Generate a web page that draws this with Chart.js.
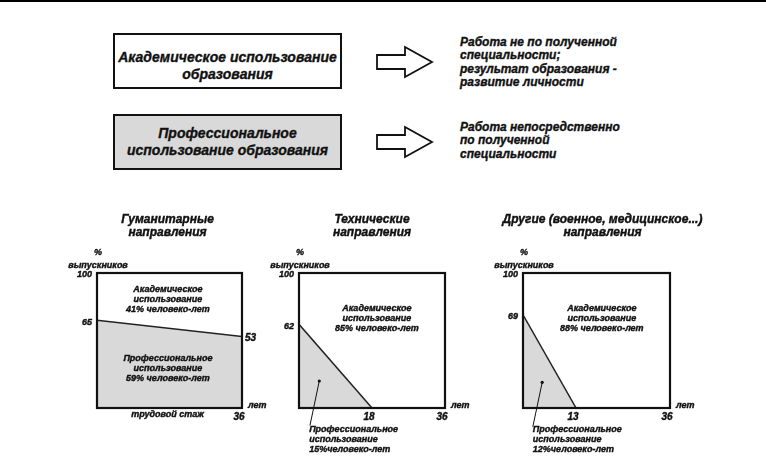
<!DOCTYPE html>
<html>
<head>
<meta charset="utf-8">
<script src="https://cdn.jsdelivr.net/npm/chart.js@4.4.0/dist/chart.umd.min.js"></script>
<style>
body{margin:0;background:#fff;}
#page{position:relative;width:766px;height:463px;overflow:hidden;font-family:"Liberation Sans",Arial,sans-serif;font-weight:bold;font-style:italic;color:#111;-webkit-text-stroke:0.35px #111;}
.bar{position:absolute;left:0;top:0;width:766px;height:2px;background:#000;}
.box{position:absolute;left:113px;width:229px;height:56px;border:2px solid #111;box-sizing:border-box;}
.boxtxt{position:absolute;left:113px;width:229px;text-align:center;font-size:14px;line-height:16.5px;white-space:nowrap;}
.note{position:absolute;left:460px;font-size:12px;line-height:13.4px;white-space:nowrap;}
canvas{position:absolute;top:200px;}
</style>
</head>
<body>
<div id="page">
  <div class="bar"></div>

  <div class="box" style="top:33px;background:#fff;"></div>
  <div class="boxtxt" style="top:49px;">Академическое использование<br>образования</div>
  <div class="box" style="top:114px;background:#d9d9d9;"></div>
  <div class="boxtxt" style="top:125px;">Профессиональное<br>использование образования</div>

  <svg style="position:absolute;left:0;top:0" width="766" height="200">
    <polygon points="377,55 405,55 405,47 432,62 405,77 405,69 377,69" fill="#fff" stroke="#111" stroke-width="1.8"/>
    <polygon points="377,135 405,135 405,127 432,142 405,157 405,149 377,149" fill="#fff" stroke="#111" stroke-width="1.8"/>
  </svg>

  <div class="note" style="top:36px;">Работа не по полученной<br>специальности;<br>результат образования -<br>развитие личности</div>
  <div class="note" style="top:121px;">Работа непосредственно<br>по полученной<br>специальности</div>

  <canvas id="c1" width="230" height="263" style="left:40px;"></canvas>
  <canvas id="c2" width="230" height="263" style="left:260px;"></canvas>
  <canvas id="c3" width="240" height="263" style="left:480px;"></canvas>
</div>
<script>
// стаж (лет) и % выпускников, работающих по специальности
const humYears = [0, 36];
const humShare = [65, 53];
const techYears = [0, 18];
const techShare = [62, 0];
const otherYears = [0, 13];
const otherShare = [69, 0];

// подписи осей
const humLeftTicks = [100, 65];
const humRightTicks = [53];
const humXTicks = [36];
const techLeftTicks = [100, 62];
const techXTicks = [18, 36];
const otherLeftTicks = [100, 69];
const otherXTicks = [13, 36];

const FONT = '"Liberation Sans", Arial, sans-serif';
const INK = '#111';
const GRAY = '#d9d9d9';

function f(size) {
  return 'italic bold ' + size + 'px ' + FONT;
}

function txt(ctx, t, x, y) {
  ctx.fillText(t, x, y);
  ctx.strokeText(t, x, y);
}

// подписи, рамка и выноски
const decor = {
  id: 'decor',
  afterDraw(chart, args, o) {
    const { ctx, chartArea: a } = chart;
    const xs = chart.scales.x, ys = chart.scales.y;
    const mid = (a.left + a.right) / 2;
    ctx.save();
    ctx.strokeStyle = INK;
    ctx.lineWidth = 2.2;
    ctx.strokeRect(a.left, a.top, a.right - a.left, a.bottom - a.top);

    ctx.fillStyle = INK;
    ctx.lineWidth = 0.4;
    ctx.textAlign = 'center';
    ctx.textBaseline = 'middle';
    ctx.font = f(12);
    o.title.forEach((t, i) => txt(ctx, t, mid + o.titleDx, a.top - 53 + i * 12.5));

    ctx.font = f(9);
    txt(ctx, '%', a.left + 1, a.top - 20);
    txt(ctx, 'выпускников', a.left + 1, a.top - 7);

    ctx.textAlign = 'left';
    txt(ctx, 'лет', a.right + 6, a.bottom - 2);
    if (o.xTitle) {
      ctx.textAlign = 'center';
      txt(ctx, o.xTitle, mid - 2, a.bottom + 7);
    }

    o.labels.forEach(b => {
      ctx.textAlign = b.align || 'center';
      const px = xs.getPixelForValue(b.x);
      const py = ys.getPixelForValue(b.y);
      const h = (b.lines.length - 1) * 10;
      b.lines.forEach((t, i) => txt(ctx, t, px, py - h / 2 + i * 10));
    });

    if (o.leader) {
      const p0 = [xs.getPixelForValue(o.leader[0]), ys.getPixelForValue(o.leader[1])];
      const p1 = [xs.getPixelForValue(o.leader[2]), ys.getPixelForValue(o.leader[3])];
      ctx.lineWidth = 1;
      ctx.beginPath();
      ctx.moveTo(p0[0], p0[1]);
      ctx.lineTo(p1[0], p1[1]);
      ctx.stroke();
      ctx.beginPath();
      ctx.arc(p0[0], p0[1], 1.6, 0, Math.PI * 2);
      ctx.fill();
    }
    ctx.restore();
  }
};

function tickFont(size) {
  return { family: FONT, size: size, style: 'italic', weight: 'bold' };
}

function makeChart(id, years, share, leftTicks, xTicks, rightTicks, pad, deco) {
  const scales = {
    x: {
      type: 'linear', min: 0, max: 36,
      grid: { display: false, drawTicks: false },
      border: { display: false },
      afterBuildTicks: s => { s.ticks = xTicks.map(v => ({ value: v })); },
      afterFit: s => { s.height = 22; },
      ticks: { padding: 3, labelOffset: -3, maxRotation: 0, autoSkip: false, color: INK,
               textStrokeColor: INK, textStrokeWidth: 0.4, font: tickFont(10) }
    },
    y: {
      type: 'linear', min: 0, max: 100, position: 'left',
      grid: { display: false, drawTicks: false },
      border: { display: false },
      afterBuildTicks: s => { s.ticks = leftTicks.map(v => ({ value: v })); },
      afterFit: s => { s.width = 24; },
      ticks: { padding: 5, labelOffset: 2, color: INK,
               textStrokeColor: INK, textStrokeWidth: 0.4, font: tickFont(9) }
    }
  };
  if (rightTicks) {
    scales.y2 = {
      type: 'linear', min: 0, max: 100, position: 'right',
      grid: { display: false, drawTicks: false },
      border: { display: false },
      afterBuildTicks: s => { s.ticks = rightTicks.map(v => ({ value: v })); },
      afterFit: s => { s.width = 24; },
      ticks: { padding: 3, labelOffset: 2, color: INK,
               textStrokeColor: INK, textStrokeWidth: 0.4, font: tickFont(10) }
    };
  }
  return new Chart(document.getElementById(id), {
    type: 'line',
    data: {
      datasets: [{
        data: years.map((x, i) => ({ x: x, y: share[i] })),
        borderColor: '#222',
        borderWidth: 1.5,
        backgroundColor: GRAY,
        fill: 'origin',
        pointRadius: 0,
        tension: 0
      }]
    },
    options: {
      responsive: false,
      animation: false,
      layout: { padding: pad },
      scales: scales,
      plugins: {
        legend: { display: false },
        tooltip: { enabled: false },
        decor: deco
      }
    },
    plugins: [decor]
  });
}

makeChart('c1', humYears, humShare, humLeftTicks, humXTicks, humRightTicks,
  { left: 33, right: 4, top: 73, bottom: 33 },
  {
    title: ['Гуманитарные', 'направления'], titleDx: -2,
    xTitle: 'трудовой стаж',
    labels: [
      { x: 17.6, y: 80, lines: ['Академическое', 'использование', '41% человеко-лет'] },
      { x: 17.6, y: 29, lines: ['Профессиональное', 'использование', '59% человеко-лет'] }
    ]
  });

makeChart('c2', techYears, techShare, techLeftTicks, techXTicks, null,
  { left: 15, right: 45, top: 73, bottom: 33 },
  {
    title: ['Технические', 'направления'], titleDx: 0,
    labels: [
      { x: 19.2, y: 66, lines: ['Академическое', 'использование', '85% человеко-лет'] },
      { x: 2.5, y: -23.7, align: 'left', lines: ['Профессиональное', 'использование', '15%человеко-лет'] }
    ],
    leader: [5, 20, 2.7, -13]
  });

makeChart('c3', otherYears, otherShare, otherLeftTicks, otherXTicks, null,
  { left: 19, right: 50, top: 73, bottom: 33 },
  {
    title: ['Другие (военное, медицинское...)', 'направления'], titleDx: 6,
    labels: [
      { x: 19.3, y: 66, lines: ['Академическое', 'использование', '88% человеко-лет'] },
      { x: 2.4, y: -23.7, align: 'left', lines: ['Профессиональное', 'использование', '12%человеко-лет'] }
    ],
    leader: [4.7, 19, 2.4, -14]
  });
</script>
</body>
</html>
